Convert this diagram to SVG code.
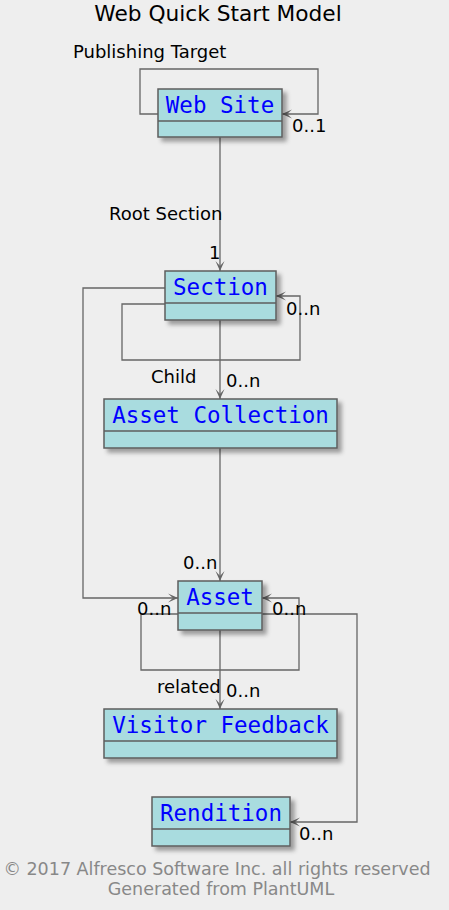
<svg xmlns="http://www.w3.org/2000/svg" width="449" height="910" viewBox="0 0 449 910">
<style>
.bg{fill:#EEEEEE}
.box{fill:#A9DCDF;stroke:#5E5E5E;stroke-width:1.5}
.div{stroke:#5E5E5E;stroke-width:1.5}
.name{font-family:"DejaVu Sans Mono",monospace;font-size:22.5px;fill:#0000FF;text-anchor:middle}
.lbl{font-family:"DejaVu Sans",sans-serif;font-size:18px;fill:#000000}
.title{font-family:"DejaVu Sans",sans-serif;font-size:21.7px;fill:#000000;text-anchor:middle}
.foot{font-family:"DejaVu Sans",sans-serif;font-size:17.5px;fill:#888888;text-anchor:middle}
.edge{fill:none;stroke:#666666;stroke-width:1.3}
</style>
<defs>
<marker id="arr" viewBox="-10 -5 11 10" refX="0" refY="0" markerWidth="11" markerHeight="10" markerUnits="userSpaceOnUse" orient="auto">
<path d="M0,0 L-10,-4.5 L-5,0 L-10,4.5 Z" fill="#666666"/>
</marker>
<filter id="sh" x="-20%" y="-20%" width="150%" height="160%">
<feGaussianBlur in="SourceAlpha" stdDeviation="2"/>
<feOffset dx="4" dy="4" result="b"/>
<feFlood flood-color="#000000" flood-opacity="0.35"/>
<feComposite in2="b" operator="in"/>
<feMerge><feMergeNode/><feMergeNode in="SourceGraphic"/></feMerge>
</filter>
</defs>
<rect class="bg" x="0" y="0" width="449" height="910"/>
<text class="title" x="218" y="21">Web Quick Start Model</text>

<g id="connectors">
<path class="edge" d="M158,114 H140 V69 H318 V114 H282" marker-end="url(#arr)"/>
<path class="edge" d="M220,137 V271" marker-end="url(#arr)"/>
<path class="edge" d="M165,304 H122 V360 H300 V296 H276" marker-end="url(#arr)"/>
<path class="edge" d="M165,288 H83 V598 H178" marker-end="url(#arr)"/>
<path class="edge" d="M220,320 V399" marker-end="url(#arr)"/>
<path class="edge" d="M220,448 V581" marker-end="url(#arr)"/>
<path class="edge" d="M178,614 H141 V670 H299 V598 H262" marker-end="url(#arr)"/>
<path class="edge" d="M220,630 V709" marker-end="url(#arr)"/>
<path class="edge" d="M262,614 H357 V822 H290" marker-end="url(#arr)"/>
<text class="lbl" x="73" y="58">Publishing Target</text>
<text class="lbl" x="292" y="132">0..1</text>
<text class="lbl" x="109" y="220">Root Section</text>
<text class="lbl" x="209" y="259">1</text>
<text class="lbl" x="286" y="315">0..n</text>
<text class="lbl" x="151" y="383">Child</text>
<text class="lbl" x="226" y="387">0..n</text>
<text class="lbl" x="183" y="569">0..n</text>
<text class="lbl" x="137" y="615">0..n</text>
<text class="lbl" x="272" y="615">0..n</text>
<text class="lbl" x="157" y="693">related</text>
<text class="lbl" x="226" y="697">0..n</text>
<text class="lbl" x="299" y="840">0..n</text>
</g>

<g id="website">
<rect class="box" x="158" y="89" width="124" height="48" filter="url(#sh)"/>
<line class="div" x1="158" y1="121" x2="282" y2="121"/>
<text class="name" x="220" y="113">Web Site</text>
</g>
<g id="section">
<rect class="box" x="165" y="271" width="111" height="49" filter="url(#sh)"/>
<line class="div" x1="165" y1="303" x2="276" y2="303"/>
<text class="name" x="220.5" y="295">Section</text>
</g>
<g id="assetcollection">
<rect class="box" x="104" y="399" width="233" height="49" filter="url(#sh)"/>
<line class="div" x1="104" y1="431" x2="337" y2="431"/>
<text class="name" x="220.5" y="423">Asset Collection</text>
</g>
<g id="asset">
<rect class="box" x="178" y="581" width="84" height="49" filter="url(#sh)"/>
<line class="div" x1="178" y1="613" x2="262" y2="613"/>
<text class="name" x="220" y="605">Asset</text>
</g>
<g id="visitorfeedback">
<rect class="box" x="104" y="709" width="233" height="49" filter="url(#sh)"/>
<line class="div" x1="104" y1="741" x2="337" y2="741"/>
<text class="name" x="220.5" y="733">Visitor Feedback</text>
</g>
<g id="rendition">
<rect class="box" x="152" y="797" width="138" height="49" filter="url(#sh)"/>
<line class="div" x1="152" y1="829" x2="290" y2="829"/>
<text class="name" x="221" y="821">Rendition</text>
</g>

<text class="foot" x="217" y="875">© 2017 Alfresco Software Inc. all rights reserved</text>
<text class="foot" x="221" y="895">Generated from PlantUML</text>
</svg>
